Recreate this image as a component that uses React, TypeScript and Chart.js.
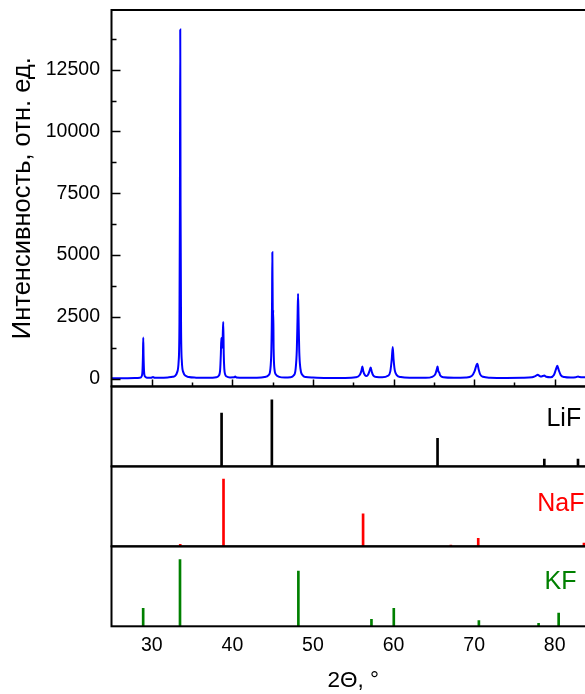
import React, { useEffect, useRef } from "react";
import { Chart, registerables } from "chart.js";

Chart.register(...registerables);

const FONT = "Arial, 'Liberation Sans', sans-serif";

// axis ranges & ticks
const X_MIN = 25;
const X_MAX = 85;
const X_TICKS = [30, 40, 50, 60, 70, 80];
const X_MINOR = [35, 45, 55, 65, 75, 85];
const Y_MIN = -310;
const Y_MAX = 14910;
const Y_TICKS = [0, 2500, 5000, 7500, 10000, 12500];
const Y_MINOR = [1250, 3750, 6250, 8750, 11250, 13750];
const STICK_MAX = 120;

// measured XRD pattern (2θ, intensity)
const twoTheta = [
  25.0, 26.0, 27.0, 28.0, 28.5, 28.74, 28.84, 28.9, 28.94, 28.98, 29.04, 29.14, 29.4, 29.9,
  30.15, 30.35, 31.0, 32.0, 32.6, 32.9, 33.13, 33.33, 33.43, 33.49, 33.53, 33.57, 33.63,
  33.73, 33.93, 34.2, 34.6, 35.5, 36.5, 37.5, 38.0, 38.3, 38.48, 38.57, 38.63, 38.7, 38.76,
  38.82, 38.87, 38.93, 39.0, 39.1, 39.3, 39.7, 40.2, 40.35, 40.5, 41.5, 43.0, 44.0, 44.5,
  44.7, 44.84, 44.92, 44.96, 45.01, 45.04, 45.07, 45.12, 45.22, 45.4, 45.8, 46.5, 47.2,
  47.6, 47.85, 48.0, 48.09, 48.15, 48.21, 48.3, 48.45, 48.7, 49.1, 50.0, 52.0, 54.0, 55.3,
  55.8, 56.02, 56.13, 56.25, 56.45, 56.65, 56.85, 57.05, 57.17, 57.3, 57.5, 57.9, 58.6,
  59.3, 59.6, 59.78, 59.9, 60.0, 60.15, 60.4, 60.9, 62.0, 64.0, 64.8, 65.2, 65.38, 65.46,
  65.56, 65.66, 65.8, 66.2, 67.5, 69.0, 69.7, 70.05, 70.28, 70.4, 70.55, 70.75, 71.1, 72.0,
  74.0, 76.0, 77.2, 77.6, 77.9, 78.1, 78.3, 78.5, 78.7, 78.95, 79.5, 79.9, 80.15, 80.32,
  80.5, 80.75, 81.2, 82.0, 82.6, 82.9, 83.1, 83.5, 84.0, 85.0,
];
const intensity = [
  20, 22, 25, 30, 40, 100, 300, 900, 1670, 900, 300, 100, 45, 40,
  75, 45, 40, 55, 80, 120, 250, 700, 2200, 7000, 14120, 7000, 2200,
  700, 250, 120, 70, 45, 40, 45, 60, 120, 350, 1000, 1645, 1250, 1300,
  1900, 2300, 1000, 400, 180, 90, 55, 60, 90, 55, 40, 45, 70, 150,
  350, 1200, 3000, 5120, 2700, 2600, 2790, 1200, 400, 170, 80, 50, 60,
  130, 400, 1200, 2500, 3435, 2500, 1100, 400, 150, 70, 50, 35, 35, 60,
  150, 330, 500, 300, 150, 110, 170, 350, 460, 280, 130, 70, 60,
  120, 300, 800, 1282, 800, 350, 150, 70, 40, 40, 80, 200, 400, 500,
  300, 260, 130, 60, 40, 50, 110, 300, 540, 607, 400, 180, 80, 45,
  35, 40, 60, 110, 160, 120, 90, 110, 135, 80, 60, 150, 380, 525,
  350, 150, 70, 50, 60, 95, 70, 60, 60, 55,
];

// reference stick patterns
const lifPos = [38.66, 44.9, 65.46, 78.71, 82.89];
const lifInt = [80, 100, 42, 11, 11];
const nafPos = [33.53, 38.9, 56.22, 67.11, 70.51, 83.63];
const nafInt = [3, 101, 49, 2, 12, 5];
const kfPos = [28.93, 33.5, 48.19, 57.26, 60.03, 70.59, 78.0, 80.49];
const kfInt = [27, 100, 83, 10.5, 27, 8.4, 4.5, 20];

const panelLabels = [
  { axis: "yLi", text: "LiF", color: "#000000", dx: 31.2, dy: 32.5 },
  { axis: "yNa", text: "NaF", color: "#ff0000", dx: 34.2, dy: 37.4 },
  { axis: "yK", text: "KF", color: "#008000", dx: 34.5, dy: 36 },
];

const framePlugin = {
  id: "frames",
  afterDraw(chart: any) {
    const { ctx, chartArea } = chart;
    const xs = chart.scales.x;
    const ys = chart.scales.y;
    ctx.save();
    ctx.strokeStyle = "#000";
    ctx.lineWidth = 2;
    for (const id of ["y", "yLi", "yNa", "yK"]) {
      const s = chart.scales[id];
      ctx.strokeRect(chartArea.left, s.top, chartArea.right - chartArea.left, s.bottom - s.top);
    }
    ctx.lineWidth = 1.5;
    ctx.beginPath();
    for (const v of Y_TICKS) {
      const p = Math.round(ys.getPixelForValue(v)) + 0.5;
      ctx.moveTo(chartArea.left, p);
      ctx.lineTo(chartArea.left + 9, p);
    }
    for (const v of Y_MINOR) {
      const p = Math.round(ys.getPixelForValue(v)) + 0.5;
      ctx.moveTo(chartArea.left, p);
      ctx.lineTo(chartArea.left + 5, p);
    }
    for (const v of X_TICKS) {
      const p = Math.round(xs.getPixelForValue(v)) + 0.5;
      ctx.moveTo(p, ys.bottom);
      ctx.lineTo(p, ys.bottom - 7);
    }
    for (const v of X_MINOR) {
      const p = Math.round(xs.getPixelForValue(v)) + 0.5;
      ctx.moveTo(p, ys.bottom);
      ctx.lineTo(p, ys.bottom - 4);
    }
    ctx.stroke();
    ctx.font = `25px ${FONT}`;
    ctx.textAlign = "center";
    ctx.textBaseline = "middle";
    for (const l of panelLabels) {
      const s = chart.scales[l.axis];
      ctx.fillStyle = l.color;
      ctx.fillText(l.text, chartArea.right - l.dx, s.top + l.dy);
    }
    ctx.restore();
  },
};

const noPad = (s: any) => {
  s.paddingTop = 0;
  s.paddingBottom = 0;
};

const stickAxis = (weight: number) => ({
  type: "linear",
  position: "left",
  stack: "panels",
  stackWeight: 80,
  weight,
  min: 0,
  max: STICK_MAX,
  ticks: { display: false },
  grid: { drawOnChartArea: false, drawTicks: false },
  border: { display: false },
  afterFit: (s: any) => {
    s.width = 111.5;
    noPad(s);
  },
});

const stickDataset = (pos: number[], vals: number[], color: string, axis: string) => ({
  type: "bar",
  data: pos.map((x, i) => ({ x, y: vals[i] })),
  yAxisID: axis,
  backgroundColor: color,
  borderWidth: 0,
  barThickness: 2,
  grouped: false,
});

export default function App() {
  const ref = useRef<HTMLCanvasElement | null>(null);
  useEffect(() => {
    if (!ref.current) return;
    const chart = new Chart(ref.current, {
      type: "line",
      data: {
        datasets: [
          {
            type: "line",
            data: twoTheta.map((x, i) => ({ x, y: intensity[i] })),
            yAxisID: "y",
            borderColor: "#0000ff",
            borderWidth: 2,
            pointRadius: 0,
            fill: false,
            cubicInterpolationMode: "monotone",
          } as any,
          stickDataset(lifPos, lifInt, "#000000", "yLi") as any,
          stickDataset(nafPos, nafInt, "#ff0000", "yNa") as any,
          stickDataset(kfPos, kfInt, "#008000", "yK") as any,
        ],
      },
      options: {
        responsive: false,
        animation: false,
        events: [],
        layout: { padding: { top: 10, right: 5, left: 0, bottom: 0 } },
        plugins: { legend: { display: false }, tooltip: { enabled: false } },
        scales: {
          x: {
            type: "linear",
            min: X_MIN,
            max: X_MAX,
            offset: false,
            afterBuildTicks: (s: any) => {
              s.ticks = X_TICKS.map((v) => ({ value: v }));
            },
            ticks: {
              font: { size: 19.5, family: FONT },
              color: "#000",
              padding: 8,
              callback: (v: any) => String(v),
            },
            grid: { drawOnChartArea: false, drawTicks: false, offset: false },
            border: { display: false },
            title: {
              display: true,
              text: "2Θ, °",
              font: { size: 22.5, family: FONT },
              color: "#000",
              padding: { top: 0, bottom: 0 },
            },
            afterFit: (s: any) => {
              s.height = 67.7;
              s.paddingLeft = 0;
              s.paddingRight = 0;
            },
          },
          y: {
            type: "linear",
            position: "left",
            stack: "panels",
            stackWeight: 376.7,
            weight: 4,
            min: Y_MIN,
            max: Y_MAX,
            afterBuildTicks: (s: any) => {
              s.ticks = Y_TICKS.map((v) => ({ value: v }));
            },
            ticks: {
              font: { size: 19.5, family: FONT },
              color: "#000",
              padding: 11.5,
              callback: (v: any) => String(v),
            },
            grid: { drawOnChartArea: false, drawTicks: false },
            border: { display: false },
            title: {
              display: true,
              text: "Интенсивность, отн. ед.",
              font: { size: 25.5, family: FONT },
              color: "#000",
              padding: { top: 7.7, bottom: 0 },
            },
            afterFit: (s: any) => {
              s.width = 111.5;
              noPad(s);
            },
          },
          yLi: stickAxis(3) as any,
          yNa: stickAxis(2) as any,
          yK: stickAxis(1) as any,
        },
      } as any,
      plugins: [framePlugin],
    });
    return () => chart.destroy();
  }, []);

  return (
    <div
      style={{
        position: "absolute",
        left: 0,
        top: 0,
        width: 585,
        height: 694,
        overflow: "hidden",
        background: "#fff",
      }}
    >
      <canvas ref={ref} width={600} height={694} style={{ display: "block", width: 600, height: 694 }} />
    </div>
  );
}
